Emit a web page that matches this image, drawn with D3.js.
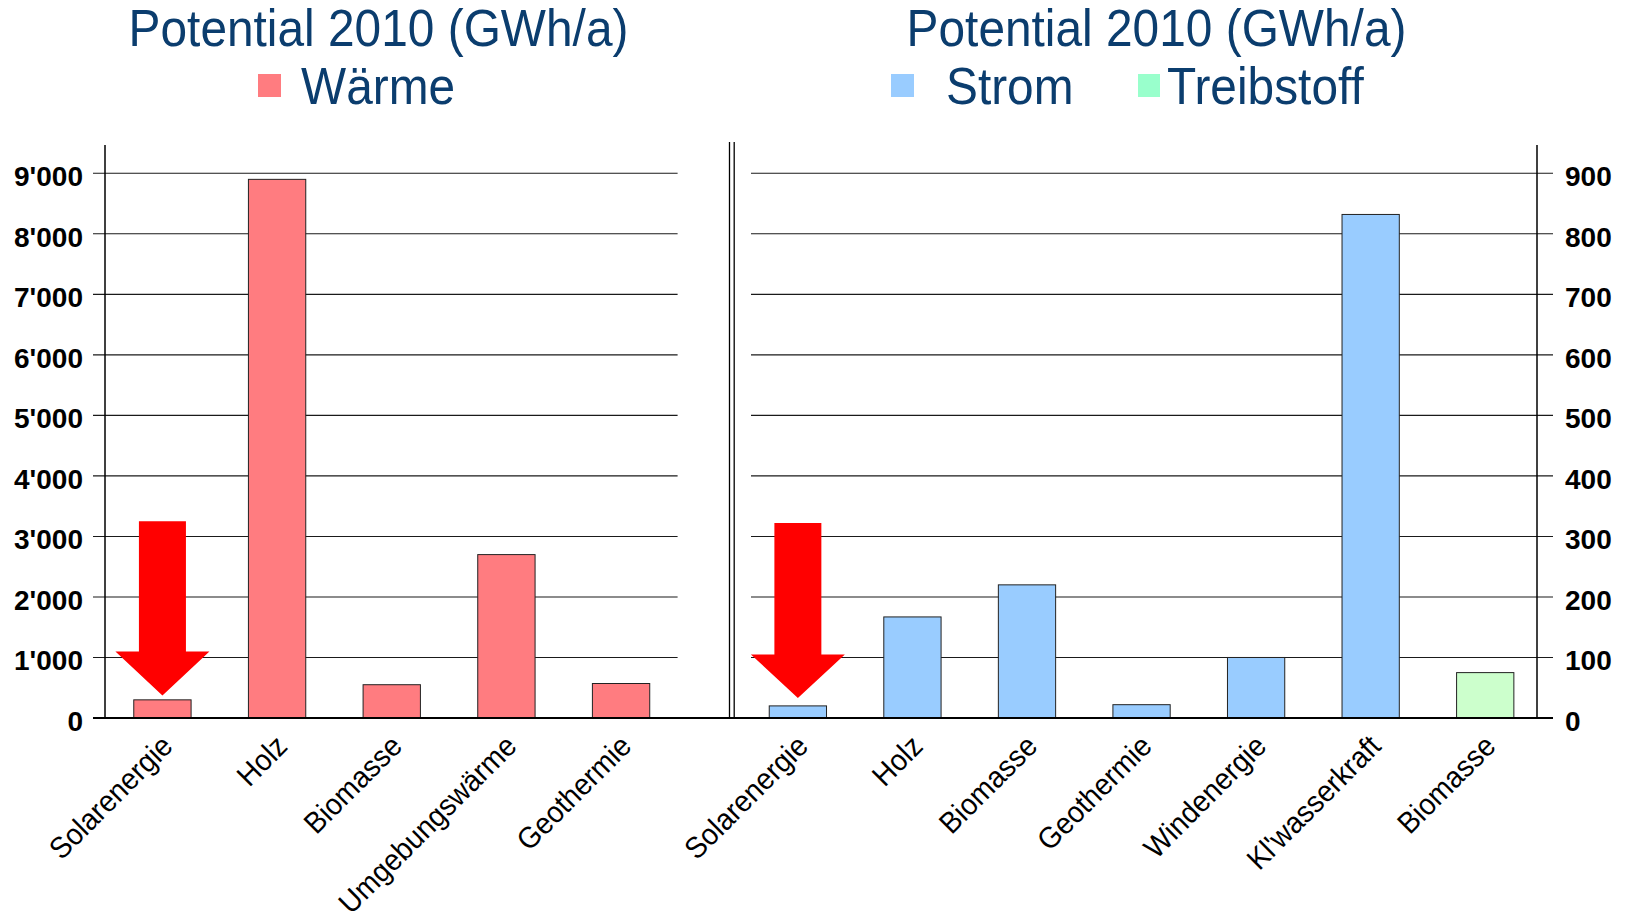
<!DOCTYPE html>
<html>
<head>
<meta charset="utf-8">
<script src="https://cdn.jsdelivr.net/npm/d3@7/dist/d3.min.js"></script>
<style>
  html, body { margin: 0; padding: 0; background: #fff; }
  svg { display: block; }
  text { font-family: "Liberation Sans", Arial, sans-serif; }
</style>
</head>
<body>
<svg id="chart" width="1627" height="920"></svg>
<script>
// ---------- DATA ----------
const titleText = "Potential 2010 (GWh/a)";

const leftCategories = ["Solarenergie", "Holz", "Biomasse", "Umgebungswärme", "Geothermie"];
const waermeValues   = [300, 8900, 550, 2700, 570];
const leftTicks      = [0, 1000, 2000, 3000, 4000, 5000, 6000, 7000, 8000, 9000];
const leftTickLabels = ["0", "1'000", "2'000", "3'000", "4'000", "5'000", "6'000", "7'000", "8'000", "9'000"];

const rightCategories = ["Solarenergie", "Holz", "Biomasse", "Geothermie", "Windenergie", "Kl'wasserkraft", "Biomasse"];
const rightValues     = [20, 167, 220, 22, 100, 832, 75];
const rightSeries     = ["Strom", "Strom", "Strom", "Strom", "Strom", "Strom", "Treibstoff"];
const rightTicks      = [0, 100, 200, 300, 400, 500, 600, 700, 800, 900];
const rightTickLabels = ["0", "100", "200", "300", "400", "500", "600", "700", "800", "900"];

// Arrow annotations (value levels): shaft top, head top, tip
const leftArrow  = [3250, 1100, 370];
const rightArrow = [322, 105, 33];

// ---------- STYLE / LAYOUT ----------
const svg = d3.select("#chart");
const titleColor = "#0b3d6e";
const barColors = { "Wärme": "#ff7c80", "Strom": "#99ccff", "Treibstoff": "#ccffcc" };
const legendColors = { "Wärme": "#ff7c80", "Strom": "#99ccff", "Treibstoff": "#99ffcc" };

const yBase = 718, yTop9 = 173.3, axisTop = 145;

const xL = d3.scaleBand().domain(d3.range(leftCategories.length)).range([105.1, 678.4]).paddingInner(0.5).paddingOuter(0.25);
const xR = d3.scaleBand().domain(d3.range(rightCategories.length)).range([740.6, 1542.5]).paddingInner(0.5).paddingOuter(0.25);
const yL = d3.scaleLinear().domain([0, 9000]).range([yBase, yTop9]);
const yR = d3.scaleLinear().domain([0, 900]).range([yBase, yTop9]);

// ---------- TITLES & LEGENDS ----------
function condText(x, y, str, anchor) {
  const g = svg.append("g").attr("transform", `translate(${x},${y}) scale(0.92,1)`);
  g.append("text").attr("text-anchor", anchor).attr("font-size", 52).attr("fill", titleColor).text(str);
}
condText(378.5, 46, titleText, "middle");
condText(1156.5, 46, titleText, "middle");

svg.append("rect").attr("x", 258).attr("y", 74).attr("width", 23).attr("height", 23).attr("fill", legendColors["Wärme"]);
condText(301, 103.5, "Wärme", "start");
svg.append("rect").attr("x", 891).attr("y", 74).attr("width", 23).attr("height", 23).attr("fill", legendColors["Strom"]);
condText(946, 103.5, "Strom", "start");
svg.append("rect").attr("x", 1138).attr("y", 74).attr("width", 22).attr("height", 23).attr("fill", legendColors["Treibstoff"]);
condText(1167, 103.5, "Treibstoff", "start");

// ---------- GRIDLINES ----------
const grid = svg.append("g").attr("stroke", "#1a1a1a").attr("stroke-width", 1.1);
leftTicks.filter(d => d > 0).forEach(d => {
  grid.append("line").attr("x1", 93).attr("x2", 677.6).attr("y1", yL(d)).attr("y2", yL(d));
});
rightTicks.filter(d => d > 0).forEach(d => {
  grid.append("line").attr("x1", 751).attr("x2", 1553).attr("y1", yR(d)).attr("y2", yR(d));
});

// ---------- Y AXES ----------
const axL = d3.axisLeft(yL).tickValues(leftTicks).tickSize(0).tickPadding(22)
  .tickFormat((d, i) => leftTickLabels[i]);
const gL = svg.append("g").attr("transform", "translate(105,0)").call(axL);
gL.select(".domain").remove();
gL.selectAll("text").attr("font-size", 28).attr("font-weight", "bold").attr("fill", "#000").attr("dy", "0.44em")
  .attr("font-family", "Liberation Sans, Arial, sans-serif");

const axR = d3.axisRight(yR).tickValues(rightTicks).tickSize(0).tickPadding(28)
  .tickFormat((d, i) => rightTickLabels[i]);
const gR = svg.append("g").attr("transform", "translate(1537,0)").call(axR);
gR.select(".domain").remove();
gR.selectAll("text").attr("font-size", 28).attr("font-weight", "bold").attr("fill", "#000").attr("dy", "0.44em")
  .attr("font-family", "Liberation Sans, Arial, sans-serif");

svg.append("line").attr("x1", 105).attr("x2", 105).attr("y1", axisTop).attr("y2", yBase).attr("stroke", "#000").attr("stroke-width", 1.5);
svg.append("line").attr("x1", 1537).attr("x2", 1537).attr("y1", axisTop).attr("y2", yBase).attr("stroke", "#000").attr("stroke-width", 1.5);
// separator double line
[729.5, 734.2].forEach(x => {
  svg.append("line").attr("x1", x).attr("x2", x).attr("y1", 142).attr("y2", yBase).attr("stroke", "#000").attr("stroke-width", 1.3);
});

// ---------- BARS ----------
svg.append("g").selectAll("rect").data(waermeValues).join("rect")
  .attr("x", (d, i) => xL(i)).attr("width", xL.bandwidth())
  .attr("y", d => yL(d)).attr("height", d => yBase - yL(d))
  .attr("fill", barColors["Wärme"]).attr("stroke", "#222").attr("stroke-width", 1);

svg.append("g").selectAll("rect").data(rightValues).join("rect")
  .attr("x", (d, i) => xR(i)).attr("width", xR.bandwidth())
  .attr("y", d => yR(d)).attr("height", d => yBase - yR(d))
  .attr("fill", (d, i) => barColors[rightSeries[i]]).attr("stroke", "#222").attr("stroke-width", 1);

// baseline
svg.append("line").attr("x1", 93).attr("x2", 1553).attr("y1", yBase).attr("y2", yBase).attr("stroke", "#000").attr("stroke-width", 2);

// ---------- X LABELS ----------
function xLabels(scale, cats) {
  svg.append("g").selectAll("text").data(cats).join("text")
    .attr("transform", (d, i) => `translate(${scale(i) + scale.bandwidth() / 2 + 12},${yBase + 30}) rotate(-45) scale(0.94,1)`)
    .attr("text-anchor", "end").attr("font-size", 30).attr("fill", "#000")
    .text(d => d);
}
xLabels(xL, leftCategories);
xLabels(xR, rightCategories);

// ---------- ARROWS ----------
function arrow(scale, y, idx, vals) {
  const cx = scale(idx) + scale.bandwidth() / 2;
  const step = scale.step();
  const sw = step * 0.205, hw = step * 0.41;
  const [t, h, tip] = vals.map(v => y(v));
  const pts = [[cx - sw, t], [cx + sw, t], [cx + sw, h], [cx + hw, h], [cx, tip], [cx - hw, h], [cx - sw, h]];
  svg.append("path").attr("d", d3.line()(pts) + "Z").attr("fill", "#ff0000");
}
arrow(xL, yL, 0, leftArrow);
arrow(xR, yR, 0, rightArrow);
</script>
</body>
</html>
